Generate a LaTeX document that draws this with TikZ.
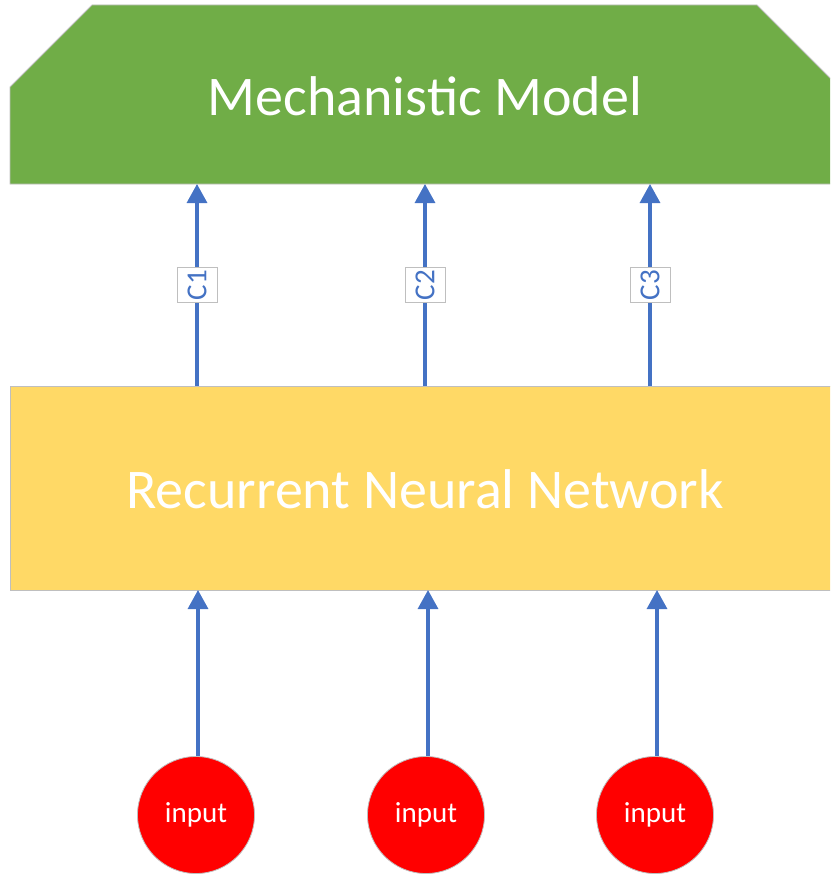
\documentclass[tikz,border=0pt]{standalone}
\usepackage{fontspec}
\setmainfont{Carlito}
\usetikzlibrary{arrows.meta}
\definecolor{mgreen}{HTML}{70AD47}
\definecolor{ryellow}{HTML}{FFD966}
\definecolor{abluec}{HTML}{4472C4}
\definecolor{edgegrey}{HTML}{BFBFBF}
\tikzset{
  link/.style={abluec, line width=3.2pt, -{Triangle[width=20pt,length=19pt]}},
  clabel/.style={fill=white, draw=edgegrey, line width=0.6pt, text=abluec, rotate=90,
    font=\fontsize{29}{29}\selectfont, inner sep=1pt, minimum width=35pt, minimum height=40pt},
  inputnode/.style={circle, fill=red, draw=edgegrey, line width=0.8pt, minimum size=117pt,
    inner sep=0pt, text=white, font=\fontsize{29}{29}\selectfont},
  title/.style={text=white, font=\fontsize{56}{56}\selectfont},
}
\begin{document}
\begin{tikzpicture}[x=1pt,y=-1pt]
\useasboundingbox (0,0) rectangle (830,875);
% the two blocks run past the right edge
\begin{scope}
\clip (0,0) rectangle (830,875);
\fill[mgreen, draw=edgegrey, line width=0.8pt]
  (10,87) -- (92,5) -- (757,5) -- (840,88) -- (840,184) -- (10,184) -- cycle;
\fill[ryellow, draw=edgegrey, line width=0.8pt] (10,386) rectangle (840,590);
\end{scope}
\node[title] (mm) at (425,96) {Mechanistic Model};
\node[title] (rnn) at (425,489) {Recurrent Neural Network};
% anchors on the two blocks
\coordinate (t1) at (197,184); \coordinate (b1) at (197,386);
\coordinate (t2) at (425,184); \coordinate (b2) at (425,386);
\coordinate (t3) at (650,184); \coordinate (b3) at (650,386);
\coordinate (r1) at (198,590); \coordinate (r2) at (428,590); \coordinate (r3) at (657,590);
% RNN to model
\draw[link] (b1) -- (t1);
\draw[link] (b2) -- (t2);
\draw[link] (b3) -- (t3);
\node[clabel] (c1) at (197,285) {C1};
\node[clabel] (c2) at (425,285) {C2};
\node[clabel] (c3) at (650,285) {C3};
% inputs
\node[inputnode] (i1) at (196,815) {input};
\node[inputnode] (i2) at (426,815) {input};
\node[inputnode] (i3) at (655,815) {input};
\draw[link] (i1.north -| r1) -- (r1);
\draw[link] (i2.north -| r2) -- (r2);
\draw[link] (i3.north -| r3) -- (r3);
\end{tikzpicture}
\end{document}
